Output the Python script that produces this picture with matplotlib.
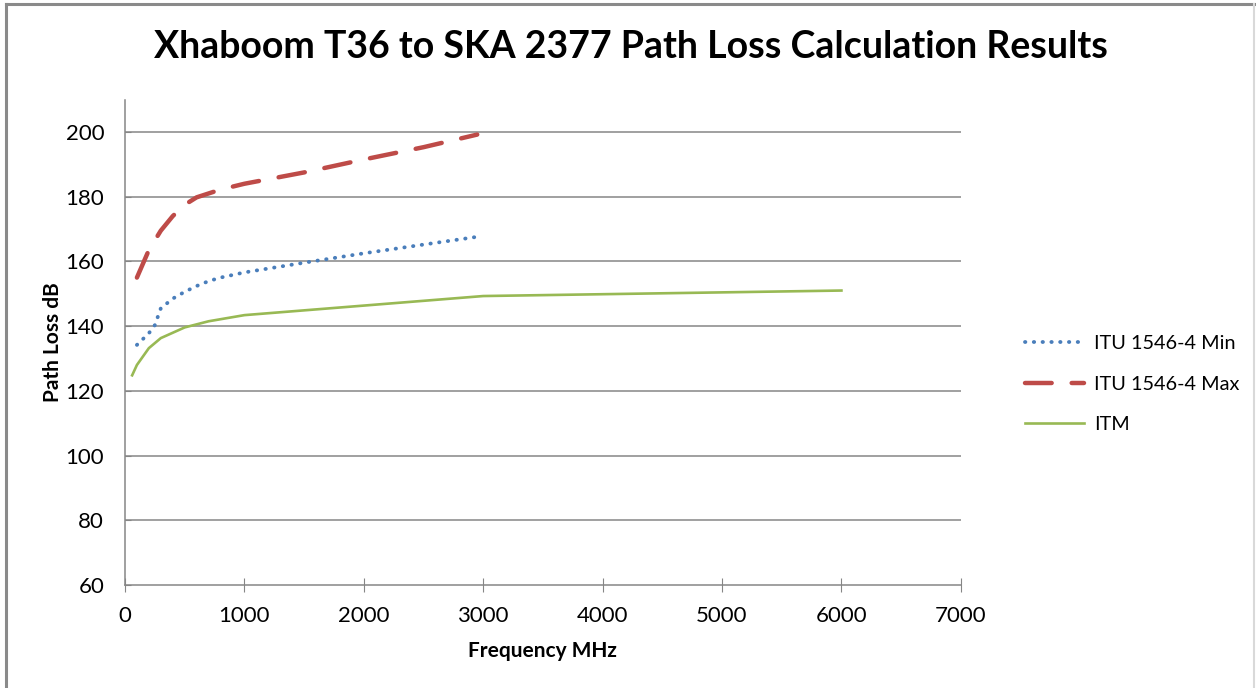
import matplotlib
matplotlib.use("Agg")
import matplotlib.pyplot as plt
from matplotlib.lines import Line2D

plt.rcParams['font.family'] = ['Lato', 'DejaVu Sans']

# Data
freq_itu = [100, 200, 250, 300, 400, 500, 600, 700, 800, 1000, 1500, 2000, 2500, 2950]
itu_min = [134.2, 137.8, 140.3, 145.5, 148.5, 150.6, 152.4, 153.9, 155.0, 156.6, 159.6, 162.5, 165.2, 167.6]
itu_max = [155.0, 163.5, 166.5, 169.5, 174.0, 177.5, 179.8, 181.0, 182.2, 184.0, 187.5, 191.5, 195.3, 199.2]

freq_itm = [60, 100, 200, 300, 500, 700, 1000, 3000, 6000]
itm = [124.8, 128.0, 133.2, 136.3, 139.6, 141.5, 143.4, 149.3, 151.0]

title = "Xhaboom T36 to SKA 2377 Path Loss Calculation Results"
grid_col = "#868686"

fig = plt.figure(figsize=(12.56, 6.88), dpi=100)
ax = fig.add_axes([0.0995, 0.1497, 0.6655, 0.7055])

ax.plot(freq_itu, itu_min, color="#4A7EBB", lw=2.75, dashes=(0.1, 2.2),
        dash_capstyle="round", label="ITU 1546-4 Min")
ax.plot(freq_itu, itu_max, color="#BE4B48", lw=3.2, dashes=(6, 4.5),
        dash_capstyle="round", label="ITU 1546-4 Max")
ax.plot(freq_itm, itm, color="#98B954", lw=1.9, label="ITM")

ax.set_xlim(0, 7000)
ax.set_ylim(60, 210)
ax.set_xticks(range(0, 7001, 1000))
ax.set_yticks(range(60, 201, 20))
for y in range(80, 201, 20):
    ax.axhline(y, color=grid_col, lw=1.1, zorder=0)

for s in ["top", "right"]:
    ax.spines[s].set_visible(False)
for s in ["left", "bottom"]:
    ax.spines[s].set_color(grid_col)
    ax.spines[s].set_linewidth(1.1)

ax.tick_params(axis="x", direction="inout", length=10, color=grid_col,
               labelsize=16, pad=10)
ax.tick_params(axis="y", direction="in", length=4, color=grid_col,
               labelsize=16, pad=15)

ax.set_xlabel("Frequency MHz", fontsize=15, fontweight="bold", labelpad=11)
ax.set_ylabel("Path Loss dB", fontsize=15, fontweight="bold", labelpad=2)

fig.text(0.502, 0.932, title, ha="center", va="center", fontsize=27,
         fontweight="bold")

leg = ax.legend(loc="center left", bbox_to_anchor=(1.055, 0.414), frameon=False,
                fontsize=14.3, handlelength=3.0, labelspacing=1.2,
                handletextpad=0.5)

# outer chart frame
fig.add_artist(Line2D([6 / 1256, 6 / 1256], [0, 1 - 4 / 688],
                      transform=fig.transFigure, color="#8a8a8a", lw=2.2))
fig.add_artist(Line2D([6 / 1256, 1254 / 1256], [1 - 4 / 688, 1 - 4 / 688],
                      transform=fig.transFigure, color="#8a8a8a", lw=2.2))
fig.add_artist(Line2D([1254 / 1256, 1254 / 1256], [0, 1 - 4 / 688],
                      transform=fig.transFigure, color="#d9d9d9", lw=1.5))

fig.savefig("out.png", dpi=100, facecolor="white")
